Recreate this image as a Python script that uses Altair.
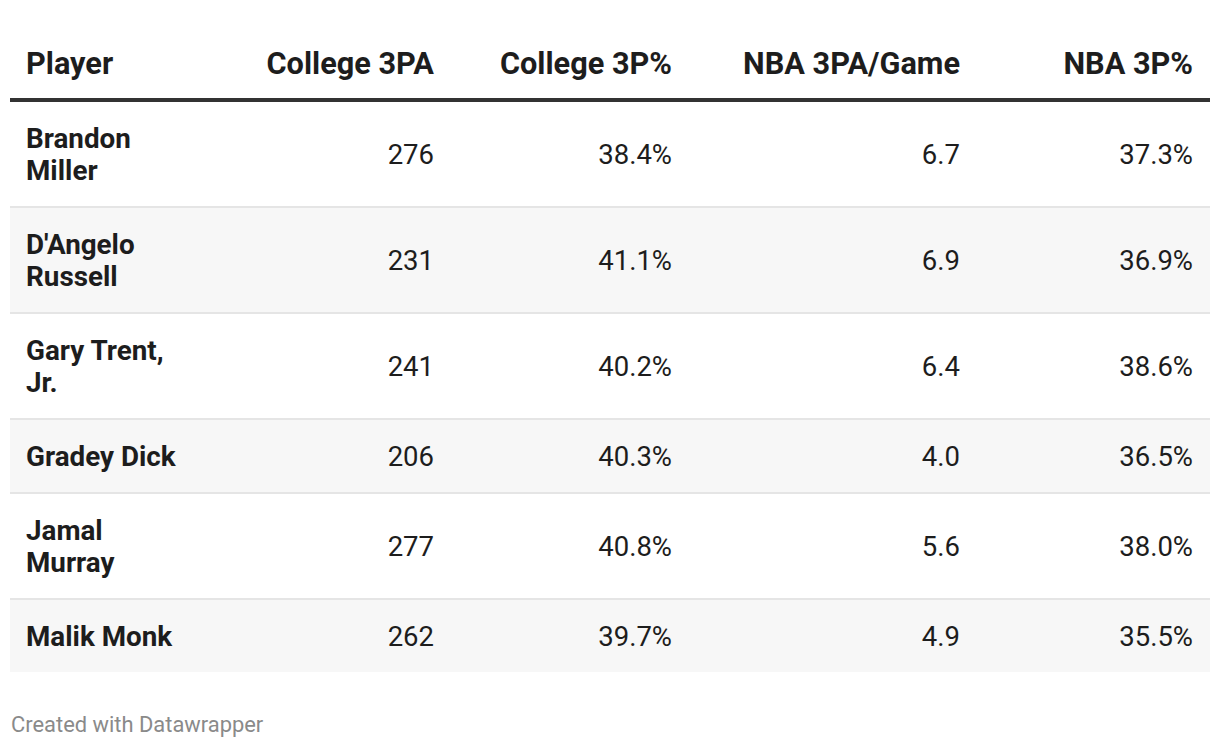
import altair as alt
import pandas as pd

# ---- data ----
players = ["Brandon\nMiller", "D'Angelo\nRussell", "Gary Trent,\nJr.", "Gradey Dick", "Jamal\nMurray", "Malik Monk"]
college_3pa = [276, 231, 241, 206, 277, 262]
college_3p_pct = [38.4, 41.1, 40.2, 40.3, 40.8, 39.7]
nba_3pa_game = [6.7, 6.9, 6.4, 4.0, 5.6, 4.9]
nba_3p_pct = [37.3, 36.9, 38.6, 36.5, 38.0, 35.5]
columns = ["Player", "College 3PA", "College 3P%", "NBA 3PA/Game", "NBA 3P%"]

# ---- layout / style ----
W, H = 1204, 732
COL_X = dict(zip(columns, [18, 426, 664, 952, 1185]))
TABLE_LEFT, TABLE_RIGHT = 2, 1202
HEADER_LINE_Y, HEADER_LINE_W = 92, 4
LINE_H, PAD, BORDER = 32, 20, 2
FONT = "Roboto"
TEXT_COLOR = "#1d1d1d"

# row geometry derived from number of text lines
rows = []
top = HEADER_LINE_Y + HEADER_LINE_W / 2
for i, name in enumerate(players):
    n_lines = name.count("\n") + 1
    h = n_lines * LINE_H + PAD * 2
    rows.append({
        "i": i,
        "top": top,
        "bottom": top + h,
        "mid": top + h / 2,
        "first_line": top + h / 2 - (n_lines - 1) * LINE_H / 2,
        "shade": i % 2 == 1,
        "last": i == len(players) - 1,
    })
    top += h + BORDER
rows_df = pd.DataFrame(rows)

cells = []
for i, r in enumerate(rows):
    vals = [
        f"{college_3pa[i]}",
        f"{college_3p_pct[i]:.1f}%",
        f"{nba_3pa_game[i]:.1f}",
        f"{nba_3p_pct[i]:.1f}%",
    ]
    for c, v in zip(columns[1:], vals):
        cells.append({"col": c, "cx": COL_X[c], "text": v, "mid": r["mid"]})
cells_df = pd.DataFrame(cells)
names_df = pd.DataFrame({"col": "Player", "cx": COL_X["Player"], "text": players,
                         "first_line": rows_df["first_line"]})
header_df = pd.DataFrame({"col": columns, "cx": [COL_X[c] for c in columns]})

xs = alt.Scale(domain=[0, W], range=[0, W])
ys = alt.Scale(domain=[0, H], range=[0, H])

shade = alt.Chart(rows_df).transform_filter("datum.shade").mark_rect(color="#f7f7f7").encode(
    x=alt.value(TABLE_LEFT), x2=alt.value(TABLE_RIGHT),
    y=alt.Y("top:Q", scale=ys, axis=None), y2="bottom:Q",
)
borders = alt.Chart(rows_df).transform_filter("!datum.last").transform_calculate(
    by="datum.bottom + 1"
).mark_rule(color="#e5e5e5", strokeWidth=BORDER).encode(
    x=alt.value(TABLE_LEFT), x2=alt.value(TABLE_RIGHT),
    y=alt.Y("by:Q", scale=ys, axis=None),
)
header_rule = alt.Chart(header_df).mark_rule(color="#333333", strokeWidth=HEADER_LINE_W).encode(
    x=alt.value(TABLE_LEFT), x2=alt.value(TABLE_RIGHT), y=alt.value(HEADER_LINE_Y),
)
header_left = alt.Chart(header_df).transform_filter("datum.col == 'Player'").mark_text(
    font=FONT, fontSize=30.7, fontWeight="bold", align="left", baseline="alphabetic", color=TEXT_COLOR
).encode(x=alt.X("cx:Q", scale=xs, axis=None), y=alt.value(66), text="col:N")
header_right = alt.Chart(header_df).transform_filter("datum.col != 'Player'").mark_text(
    font=FONT, fontSize=30.7, fontWeight="bold", align="right", baseline="alphabetic", color=TEXT_COLOR
).encode(x=alt.X("cx:Q", scale=xs, axis=None), y=alt.value(66), text="col:N")
names = alt.Chart(names_df).mark_text(
    font=FONT, fontSize=27.8, fontWeight="bold", align="left", baseline="middle",
    lineBreak="\n", lineHeight=LINE_H, color=TEXT_COLOR, dy=2
).encode(x=alt.X("cx:Q", scale=xs, axis=None), y=alt.Y("first_line:Q", scale=ys, axis=None), text="text:N")
values = alt.Chart(cells_df).mark_text(
    font=FONT, fontSize=27.5, align="right", baseline="middle", color=TEXT_COLOR, dy=2
).encode(x=alt.X("cx:Q", scale=xs, axis=None), y=alt.Y("mid:Q", scale=ys, axis=None), text="text:N")
footer = alt.Chart(pd.DataFrame({"t": ["Created with Datawrapper"]})).mark_text(
    font=FONT, fontSize=21.9, align="left", baseline="alphabetic", color="#8a8a8a"
).encode(x=alt.value(3), y=alt.value(724), text="t:N")

chart = alt.layer(shade, borders, header_rule, header_left, header_right, names, values, footer).properties(
    width=W, height=H, padding=0, background="white", autosize=alt.AutoSizeParams(type="none"),
).configure_view(strokeWidth=0, stroke="transparent")

chart.save("out.html", embed_options={"renderer": "svg", "actions": False})
